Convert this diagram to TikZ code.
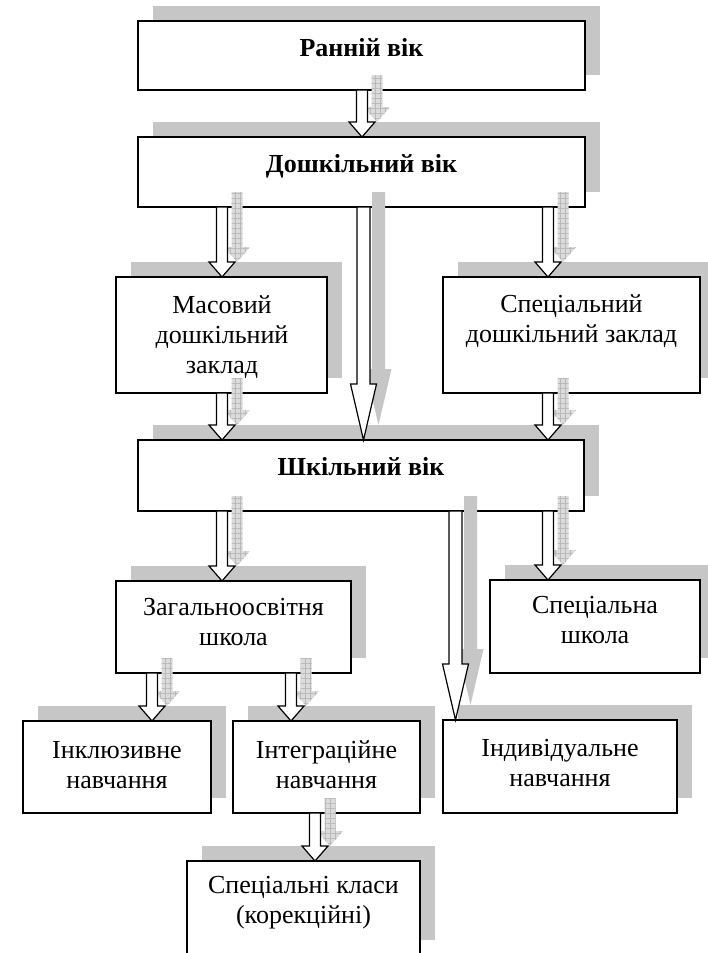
\documentclass[tikz,border=0pt]{standalone}
\usepackage{fontspec}
\setmainfont{Liberation Serif}
\usetikzlibrary{calc,patterns.meta}
\pgfdeclarelayer{background}
\pgfsetlayers{background,main}
% #1 style, #2 x, #3 from node, #4 to node, #5 shaft half width, #6 head half width, #7 head length, #8 offset
\newcommand\blockarrow[8]{%
  \path[#1] let \p1=(#3.south), \p2=(#4.north) in
    (#2pt+#8pt-#5pt,\y1+#8pt) -- (#2pt+#8pt-#5pt,\y2+#8pt+#7pt)
    -- (#2pt+#8pt-#6pt,\y2+#8pt+#7pt) -- (#2pt+#8pt,\y2+#8pt)
    -- (#2pt+#8pt+#6pt,\y2+#8pt+#7pt) -- (#2pt+#8pt+#5pt,\y2+#8pt+#7pt)
    -- (#2pt+#8pt+#5pt,\y1+#8pt) -- cycle;}
\newcommand\shortarrow[3]{%
  \blockarrow{shortshadow}{#1}{#2}{#3}{5.5}{13}{15}{15}
  \blockarrow{arrowbody}{#1}{#2}{#3}{5.5}{13}{15}{0}}
\newcommand\longarrow[3]{%
  \blockarrow{longshadow}{#1}{#2}{#3}{6.5}{13}{56}{15}
  \blockarrow{arrowbody}{#1}{#2}{#3}{6.5}{13}{56}{0}}
\tikzset{
  box/.style={draw, line width=1.6pt, fill=white, inner sep=0pt, outer sep=0pt},
  txt/.style={inner sep=0pt, anchor=base, font=\fontsize{26}{30}\selectfont},
  btxt/.style={inner sep=0pt, anchor=base, font=\fontsize{26}{30}\selectfont\bfseries},
  boxshadow/.style={fill=gray!45},
  arrowbody/.style={draw, line width=1.2pt, fill=white, line join=miter},
  longshadow/.style={fill=gray!45},
  shortshadow/.style={fill=gray!28, postaction={pattern={Hatch[angle=0,distance=5pt,line width=0.6pt]}, pattern color=gray!55}}
}
\newcommand\lines[1]{\begin{tabular}[t]{@{}c@{}}#1\end{tabular}}
\begin{document}
\begin{tikzpicture}[x=1pt,y=-1pt]
\useasboundingbox (0,0) rectangle (708,953);
\clip (0,0) rectangle (708,953);
% boxes
\node[box, minimum width=447pt, minimum height=69pt] (b1) at (361.5,55.5) {};
\node[box, minimum width=447pt, minimum height=70pt] (b2) at (361.5,172) {};
\node[box, minimum width=211pt, minimum height=116pt] (b3) at (221.5,335) {};
\node[box, minimum width=257pt, minimum height=116pt] (b4) at (571.5,335) {};
\node[box, minimum width=446pt, minimum height=71pt] (b5) at (361,475.5) {};
\node[box, minimum width=235pt, minimum height=92pt] (b6) at (233.5,627) {};
\node[box, minimum width=210pt, minimum height=93pt] (b7) at (595,626.5) {};
\node[box, minimum width=188pt, minimum height=92pt] (b8) at (117,767) {};
\node[box, minimum width=187pt, minimum height=92pt] (b9) at (326.5,767) {};
\node[box, minimum width=234pt, minimum height=93pt] (b10) at (560,766.5) {};
\node[box, minimum width=233pt, minimum height=94pt] (b11) at (303.5,908) {};
% shadows of boxes
\begin{pgfonlayer}{background}
  \clip (0,0) rectangle (708,953);
  \fill[white] (0,0) rectangle (708,953);
  \foreach \b in {b1,b2,b3,b4,b5,b6,b7,b8,b9,b10,b11}
    \fill[boxshadow] ($(\b.south west)+(15,-15)$) rectangle ($(\b.north east)+(15,-15)$);
\end{pgfonlayer}
% texts
\node[btxt] (t1) at (361.5,56) {Ранній вік};
\node[btxt] (t2) at (361.5,172) {Дошкільний вік};
\node[txt] (t3) at (222,313) {\lines{Масовий\\дошкільний\\заклад}};
\node[txt] (t4) at (571.5,312) {\lines{Спеціальний\\дошкільний заклад}};
\node[btxt] (t5) at (361,475) {Шкільний вік};
\node[txt] (t6) at (233.5,615) {\lines{Загальноосвітня\\школа}};
\node[txt] (t7) at (595,613) {\lines{Спеціальна\\школа}};
\node[txt] (t8) at (117,758) {\lines{Інклюзивне\\навчання}};
\node[txt] (t9) at (326.5,758) {\lines{Інтеграційне\\навчання}};
\node[txt] (t10) at (560,756) {\lines{Індивідуальне\\навчання}};
\node[txt] (t11) at (303.5,893) {\lines{Спеціальні класи\\(корекційні)}};
% arrows
\shortarrow{362}{b1}{b2}
\shortarrow{222}{b2}{b3}
\shortarrow{548}{b2}{b4}
\longarrow{363.5}{b2}{b5}
\shortarrow{222}{b3}{b5}
\shortarrow{548}{b4}{b5}
\shortarrow{222}{b5}{b6}
\shortarrow{548}{b5}{b7}
\longarrow{455.5}{b5}{b10}
\shortarrow{152}{b6}{b8}
\shortarrow{291}{b6}{b9}
\shortarrow{315}{b9}{b11}
\end{tikzpicture}
\end{document}
